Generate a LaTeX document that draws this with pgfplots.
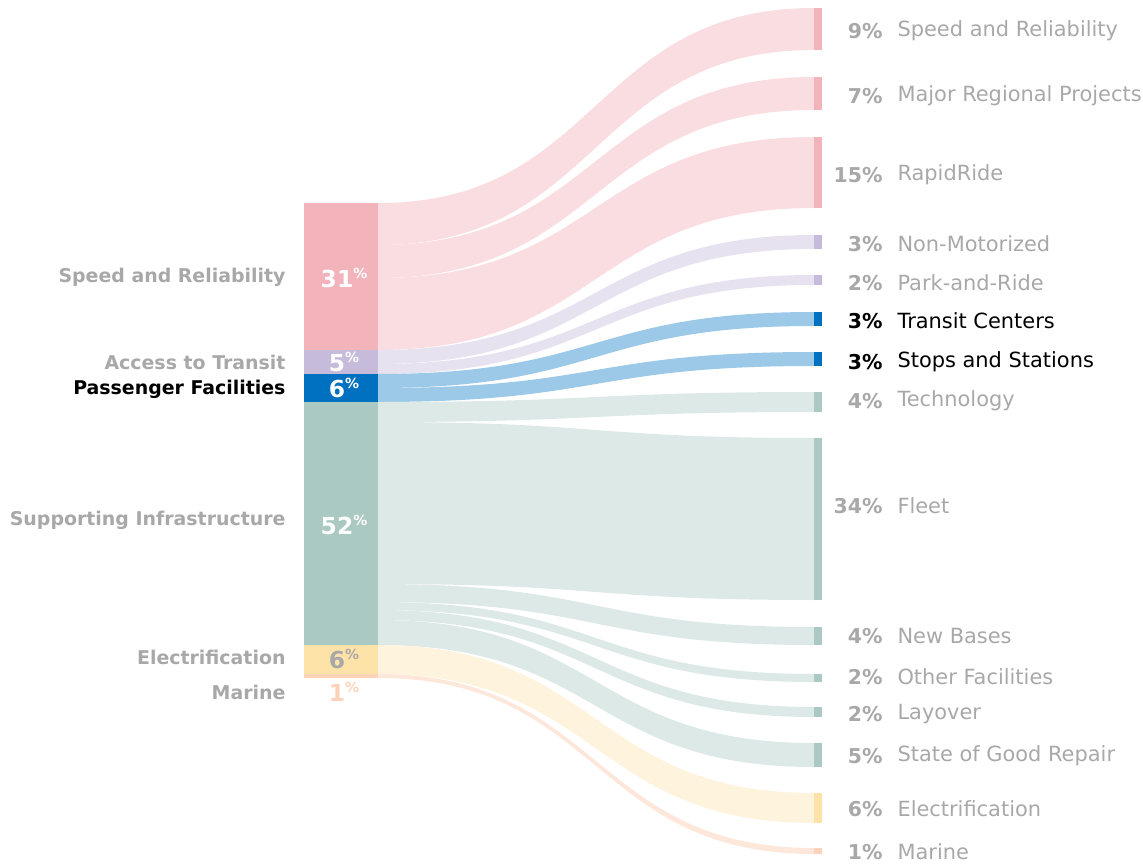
\documentclass[border=0pt]{standalone}
\usepackage{pgfplots}
\pgfplotsset{compat=1.18}
\usepackage{fontspec}
\setmainfont{DejaVu Sans}

\definecolor{srbar}{HTML}{F2B3BB}
\definecolor{srflow}{HTML}{FADDE1}
\definecolor{atbar}{HTML}{C6BBDB}
\definecolor{atflow}{HTML}{E7E2F0}
\definecolor{pfbar}{HTML}{0070C0}
\definecolor{pfflow}{HTML}{9CC9E8}
\definecolor{sibar}{HTML}{ABC9C3}
\definecolor{siflow}{HTML}{DDE9E6}
\definecolor{elbar}{HTML}{FEE3A9}
\definecolor{elflow}{HTML}{FEF3DD}
\definecolor{mabar}{HTML}{FCD3B9}
\definecolor{maflow}{HTML}{FDE7DA}
\definecolor{txt}{HTML}{A8A8A8}

% node bar: x0 x1 y0 y1 colour
\newcommand\nodebar[5]{\addplot[fill=#5, draw=none] coordinates {(#1,#3) (#2,#3) (#2,#4) (#1,#4)} -- cycle;}
% flow: source top, source bottom, target top, target bottom, colour
\newcommand\flow[5]{\addplot[fill=#5, draw=none] coordinates {(378,#1)}
  .. controls (600,#1) and (592,#3) .. (814,#3) -- (814,#4)
  .. controls (592,#4) and (600,#2) .. (378,#2) -- cycle;}
\newcommand\lab[3]{\node[anchor=east, font=\fontsize{19}{19}\selectfont\bfseries, text=#3] at (axis cs:289,#1) {#2};}
\newcommand\tgt[4]{%
  \node[anchor=east, font=\fontsize{20.5}{20.5}\selectfont\bfseries, text=#4] at (axis cs:886,#1) {#2\%};
  \node[anchor=west, font=\fontsize{21}{21}\selectfont, text=#4] at (axis cs:894,#1) {#3};}
\newcommand\pct[3]{\node[font=\fontsize{23.5}{23.5}\selectfont\bfseries, text=#3] at (axis cs:344,#1) {#2\raisebox{0.36em}{\fontsize{14}{14}\selectfont\%}};}

\begin{document}
\begin{tikzpicture}
\begin{axis}[x=1bp, y=1bp, y dir=reverse, scale only axis,
  xmin=0, xmax=1143, ymin=0, ymax=864, hide axis, clip=false]

% flows
\flow{203}{245}{8}{50}{srflow}
\flow{245}{278}{77}{110}{srflow}
\flow{278}{350}{137}{208}{srflow}
\flow{350}{364}{235}{249}{atflow}
\flow{364}{374}{275}{285}{atflow}
\flow{374}{388}{312}{326}{pfflow}
\flow{388}{402}{352}{366}{pfflow}
\flow{402}{422}{392}{412}{siflow}
\flow{422}{584}{438}{600}{siflow}
\flow{584}{602}{627}{645}{siflow}
\flow{602}{610}{674}{682}{siflow}
\flow{610}{620}{707}{717}{siflow}
\flow{620}{645}{743}{767}{siflow}
\flow{645}{674}{793}{823}{elflow}
\flow{674}{678}{848}{854}{maflow}

% source bars
\nodebar{304}{378}{203}{350}{srbar}
\nodebar{304}{378}{350}{374}{atbar}
\nodebar{304}{378}{374}{402}{pfbar}
\nodebar{304}{378}{402}{645}{sibar}
\nodebar{304}{378}{645}{674}{elbar}
\nodebar{304}{378}{674}{678}{mabar}

% target bars
\nodebar{814}{822}{8}{50}{srbar}
\nodebar{814}{822}{77}{110}{srbar}
\nodebar{814}{822}{137}{208}{srbar}
\nodebar{814}{822}{235}{249}{atbar}
\nodebar{814}{822}{275}{285}{atbar}
\nodebar{814}{822}{312}{326}{pfbar}
\nodebar{814}{822}{352}{366}{pfbar}
\nodebar{814}{822}{392}{412}{sibar}
\nodebar{814}{822}{438}{600}{sibar}
\nodebar{814}{822}{627}{645}{sibar}
\nodebar{814}{822}{674}{682}{sibar}
\nodebar{814}{822}{707}{717}{sibar}
\nodebar{814}{822}{743}{767}{sibar}
\nodebar{814}{822}{793}{823}{elbar}
\nodebar{814}{822}{848}{854}{mabar}

% source labels
\lab{277}{Speed and Reliability}{txt}
\lab{362}{Access to Transit}{txt}
\lab{389}{Passenger Facilities}{black}
\lab{520}{Supporting Infrastructure}{txt}
\lab{657}{Electrification}{txt}
\lab{692}{Marine}{txt}

% shares on the source bars
\pct{278}{31}{white}
\pct{362}{5}{white}
\pct{388}{6}{white}
\pct{525}{52}{white}
\pct{659}{6}{txt}
\pct{692}{1}{mabar}

% target labels
\tgt{31}{9}{Speed and Reliability}{txt}
\tgt{96}{7}{Major Regional Projects}{txt}
\tgt{175}{15}{RapidRide}{txt}
\tgt{244}{3}{Non-Motorized}{txt}
\tgt{283}{2}{Park-and-Ride}{txt}
\tgt{321}{3}{Transit Centers}{black}
\tgt{362}{3}{Stops and Stations}{black}
\tgt{401}{4}{Technology}{txt}
\tgt{506}{34}{Fleet}{txt}
\tgt{636}{4}{New Bases}{txt}
\tgt{677}{2}{Other Facilities}{txt}
\tgt{714}{2}{Layover}{txt}
\tgt{756}{5}{State of Good Repair}{txt}
\tgt{809}{6}{Electrification}{txt}
\tgt{852}{1}{Marine}{txt}
\end{axis}
\pgfresetboundingbox
\path (current axis.south west) rectangle (current axis.north east);
\end{tikzpicture}
\end{document}
